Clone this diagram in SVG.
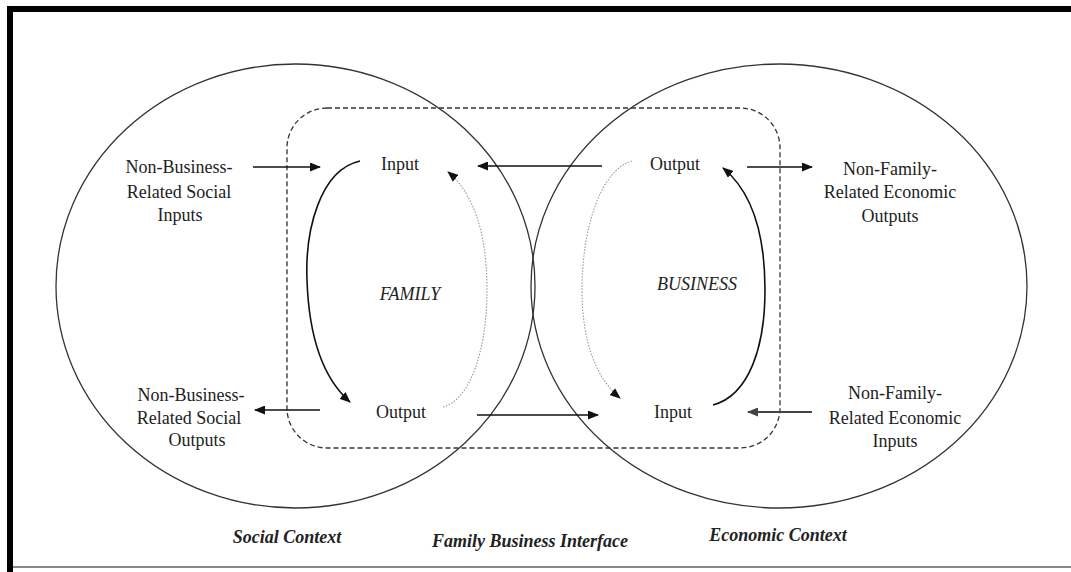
<svg xmlns="http://www.w3.org/2000/svg" width="1071" height="572" viewBox="0 0 1071 572">
<style>
.t{font-family:"Liberation Serif","Times New Roman",serif;font-size:18px;fill:#222;text-anchor:middle}
.i{font-style:italic}
.b{font-family:"Liberation Serif","Times New Roman",serif;font-size:18px;font-weight:bold;font-style:italic;fill:#222;text-anchor:middle}
.ctx{fill:none;stroke:#333;stroke-width:1.3}
.dash{fill:none;stroke:#333;stroke-width:1.3;stroke-dasharray:5 3}
.ar{fill:none;stroke:#111;stroke-width:1.6}
.sc{fill:none;stroke:#111;stroke-width:1.6}
.dc{fill:none;stroke:#999;stroke-width:1.1;stroke-dasharray:1.5 1.5}
</style>
<defs>
<marker id="h" markerUnits="userSpaceOnUse" markerWidth="11" markerHeight="9" refX="10" refY="4.5" orient="auto">
<path d="M0,0 L11,4.5 L0,9 Z" fill="#111"/>
</marker>
<marker id="hg" markerUnits="userSpaceOnUse" markerWidth="11" markerHeight="9" refX="10" refY="4.5" orient="auto">
<path d="M0,0 L11,4.5 L0,9 Z" fill="#444"/>
</marker>
</defs>
<rect width="1071" height="572" fill="#fff"/>
<g id="frame">
<rect x="7" y="6" width="1064" height="6" fill="#000"/>
<rect x="7" y="6" width="6" height="566" fill="#000"/>
<rect x="13" y="566" width="1058" height="2" fill="#888"/>
</g>
<g id="social-context">
<ellipse class="ctx" cx="295.5" cy="286" rx="239.5" ry="222"/>
<text class="b" x="287" y="543">Social Context</text>
</g>
<g id="economic-context">
<ellipse class="ctx" cx="779" cy="286" rx="248" ry="222"/>
<text class="b" x="778" y="541">Economic Context</text>
</g>
<g id="interface">
<rect class="dash" x="287" y="108" width="493" height="340" rx="40" ry="40"/>
<text class="b" x="530" y="547">Family Business Interface</text>
</g>
<g id="family">
<text class="t i" x="410" y="300">FAMILY</text>
<text class="t" x="400" y="170">Input</text>
<text class="t" x="401" y="418">Output</text>
</g>
<g id="business">
<text class="t i" x="697" y="290">BUSINESS</text>
<text class="t" x="675" y="170">Output</text>
<text class="t" x="673" y="418">Input</text>
</g>
<g id="nb-social-inputs">
<text class="t" x="179" y="173">Non-Business-</text>
<text class="t" x="179" y="198">Related Social</text>
<text class="t" x="180" y="221">Inputs</text>
</g>
<g id="nb-social-outputs">
<text class="t" x="191" y="401">Non-Business-</text>
<text class="t" x="189" y="424">Related Social</text>
<text class="t" x="197" y="446">Outputs</text>
</g>
<g id="nf-econ-outputs">
<text class="t" x="890" y="175">Non-Family-</text>
<text class="t" x="890" y="198">Related Economic</text>
<text class="t" x="890" y="222">Outputs</text>
</g>
<g id="nf-econ-inputs">
<text class="t" x="895" y="399">Non-Family-</text>
<text class="t" x="895" y="424">Related Economic</text>
<text class="t" x="895" y="447">Inputs</text>
</g>
<g id="connectors">
<line class="ar" x1="253" y1="167" x2="320" y2="167" marker-end="url(#h)"/>
<line class="ar" x1="320" y1="410" x2="255" y2="410" marker-end="url(#h)"/>
<line class="ar" x1="602" y1="166" x2="478" y2="166" marker-end="url(#h)"/>
<line class="ar" x1="477" y1="415" x2="598" y2="415" marker-end="url(#h)"/>
<line class="ar" x1="747" y1="167" x2="812" y2="167" marker-end="url(#h)"/>
<line x1="812" y1="412" x2="748" y2="412" style="stroke:#444;stroke-width:2" marker-end="url(#hg)"/>
<path class="sc" d="M360,161 C320,170 305,230 307,280 C309,340 325,380 350,402" marker-end="url(#h)"/>
<path class="dc" d="M443,407 C470,400 487,350 487,290 C487,230 472,192 448,172" marker-end="url(#h)"/>
<path class="dc" d="M632,161 C600,170 582,230 582,290 C582,345 598,380 620,398" marker-end="url(#h)"/>
<path class="sc" d="M713,405 C750,395 765,345 765,290 C765,230 750,190 723,168" marker-end="url(#h)"/>
</g>
</svg>
